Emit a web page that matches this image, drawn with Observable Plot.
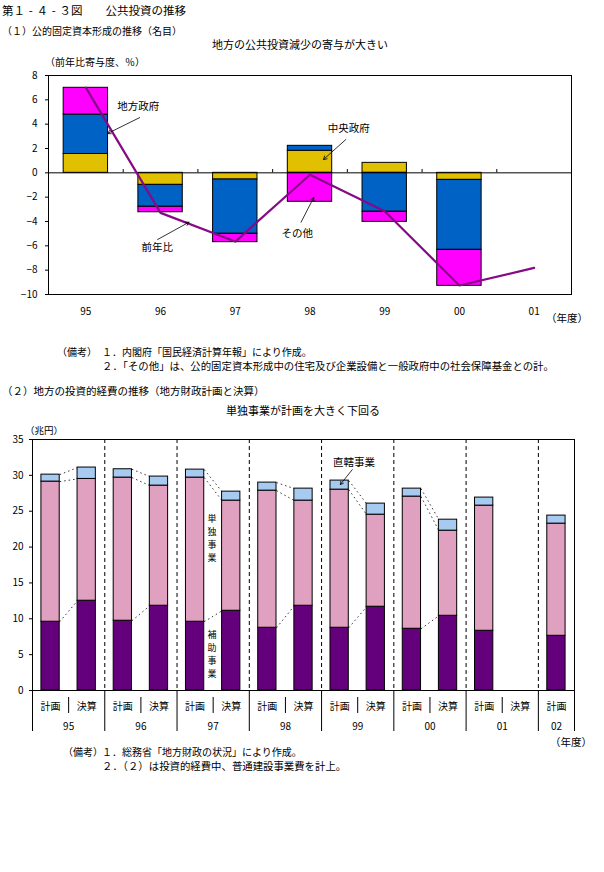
<!DOCTYPE html>
<html><head><meta charset="utf-8">
<script src="https://cdn.jsdelivr.net/npm/d3@7"></script>
<script src="https://cdn.jsdelivr.net/npm/@observablehq/plot@0.6"></script>
<style>
body{margin:0;background:#fff;}
#page{position:relative;width:604px;height:872px;overflow:hidden;background:#fff;font-family:"Noto Sans CJK JP","Noto Sans",sans-serif;color:#000;}
.t{position:absolute;white-space:nowrap;line-height:1;transform:translateY(-50%);}
.d{display:inline-block;width:1em;text-align:center;}
svg{position:absolute;left:0;}
</style></head>
<body><div id="page"></div>
<script>
// ---------- (1) 公的固定資本形成 ----------
const years1 = ["95","96","97","98","99","00","01"];
const central = [1.55, -0.99, -0.55, 1.81, 0.82, -0.58, null];   // 中央政府
const local   = [3.24, -1.80, -4.46, 0.41, -3.20, -5.75, null];  // 地方政府
const other   = [2.20, -0.45, -0.69, -2.38, -0.83, -2.96, null]; // その他
const yoy     = [7.00, -3.29, -5.65, -0.16, -3.15, -9.26, -7.81]; // 前年比
const series1 = ["中央政府","地方政府","その他"];
const colors1 = ["#e0c000","#0062c4","#ff00ff"];
const yTicks1 = [-10,-8,-6,-4,-2,0,2,4,6,8];
const notes1 = [
  {label:"地方政府", x:0.70, y:5.47, ax1:0.72, ay1:4.54, ax2:0.29, ay2:3.23},
  {label:"中央政府", x:3.52, y:3.64, ax1:3.48, ay1:2.74, ax2:3.18, ay2:1.09},
  {label:"その他",   x:2.83, y:-4.96, ax1:2.88, ay1:-4.06, ax2:3.05, ay2:-2.03},
  {label:"前年比",   x:0.955, y:-6.11, ax1:0.96, ay1:-5.48, ax2:1.38, ay2:-4.06}
];

// ---------- (2) 地方の投資的経費 ----------
const slotLabels = ["計画","決算","計画","決算","計画","決算","計画","決算","計画","決算","計画","決算","計画","決算","計画"];
const yearLabels2 = ["95","96","97","98","99","00","01","02"];
const subsidized  = [9.59,12.52,9.73,11.82,9.59,11.12,8.75,11.82,8.75,11.68,8.61,10.42,8.33,null,7.63];   // 補助事業
const independent = [19.54,16.98,19.96,16.75,20.10,15.36,19.12,14.66,19.26,12.84,18.43,11.87,17.45,null,15.64]; // 単独事業
const direct      = [0.97,1.59,1.16,1.26,1.11,1.25,1.12,1.67,1.26,1.54,1.11,1.53,1.12,null,1.12];       // 直轄事業
const series2 = ["補助事業","単独事業","直轄事業"];
const colors2 = ["#64007c","#e0a0c0","#a6caf0"];
const yTicks2 = [0,5,10,15,20,25,30,35];
const notes2 = [
  {label:"単\n独\n事\n業", x:4.47, y:21.3},
  {label:"補\n助\n事\n業", x:4.47, y:5.2}
];
const notes2b = [{label:"直轄事業", x:8.40, y:31.73, ax1:8.35, ay1:30.8, ax2:8.02, ay2:28.72}];

const FONT = '"Noto Sans CJK JP","Noto Sans",sans-serif';
const page = document.getElementById("page");
function txt(s, x, y, size, align, html) {
  const d = document.createElement("div");
  d.className = "t";
  if (html) d.innerHTML = s; else d.textContent = s;
  d.style.fontSize = size + "px"; d.style.top = y + "px";
  if (align === "center") { d.style.left = x + "px"; d.style.transform = "translate(-50%,-50%)"; }
  else if (align === "right") { d.style.right = (604 - x) + "px"; }
  else d.style.left = x + "px";
  page.appendChild(d);
}

// ----- texts -----
txt('第１<span class="d">-</span>４<span class="d">-</span>３図　　公共投資の推移', 2, 11, 11.5, null, true);
txt("（１）公的固定資本形成の推移（名目）", 2, 31, 10);
txt("地方の公共投資減少の寄与が大きい", 300, 44, 11, "center");
txt("（前年比寄与度、％）", 45, 62, 10);
txt("（年度）", 588, 318, 10.5, "right");
txt("（備考）", 57, 352, 10);
txt("１．内閣府「国民経済計算年報」により作成。", 102, 352, 10);
txt("２．「その他」は、公的固定資本形成中の住宅及び企業設備と一般政府中の社会保障基金との計。", 102, 366, 10.4);
txt("（２）地方の投資的経費の推移（地方財政計画と決算）", 2, 391, 10.5);
txt("単独事業が計画を大きく下回る", 303, 410, 11, "center");
txt("（兆円）", 25, 431, 9.5);
txt("（年度）", 592, 742, 10.5, "right");
txt("（備考）", 63, 752, 10);
txt("１．総務省「地方財政の状況」により作成。", 102, 752, 10);
txt("２．（２）は投資的経費中、普通建設事業費を計上。", 102, 766, 10.4);

// ----- chart 1 -----
const hw1 = 0.297;
const rows1 = [];
years1.forEach((y, i) => {
  [central, local, other].forEach((arr, s) => {
    if (arr[i] != null) rows1.push({i, series: series1[s], value: arr[i]});
  });
});
const line1 = yoy.map((v, i) => ({i, value: v}));
const bounds1 = d3.range(0.5, 6, 1);

const chart1 = Plot.plot({
  width: 604, height: 260,
  marginLeft: 48, marginRight: 33, marginTop: 15, marginBottom: 26,
  style: {fontFamily: FONT, fontSize: "10px", background: "transparent", overflow: "visible"},
  x: {domain: [-0.5, 6.5], axis: null},
  y: {domain: [-10, 8], axis: null},
  color: {domain: series1, range: colors1},
  marks: [
    Plot.rectY(rows1, Plot.stackY({x1: d => d.i - hw1, x2: d => d.i + hw1, y: "value", fill: "series", stroke: "#000", strokeWidth: 1})),
    Plot.ruleY([0], {stroke: "#000"}),
    Plot.ruleX(bounds1, {y1: 0, y2: 0.27, stroke: "#000"}),
    Plot.line(line1, {x: "i", y: "value", stroke: "#860a86", strokeWidth: 2.2}),
    Plot.axisY({ticks: yTicks1, tickSize: 3, tickPadding: 8}),
    Plot.axisX({ticks: d3.range(7), tickFormat: i => years1[i], tickSize: 0, tickPadding: 13}),
    Plot.frame({stroke: "#000"}),
    Plot.arrow(notes1, {x1: "ax1", y1: "ay1", x2: "ax2", y2: "ay2", stroke: "#000", strokeWidth: 0.8, headLength: 7}),
    Plot.text(notes1, {x: "x", y: "y", text: "label", fontSize: 10.5})
  ]
});
chart1.style.top = "60px";
page.appendChild(chart1);

// ----- chart 2 -----
const hw2 = 0.253;
const rows2 = [];
slotLabels.forEach((l, i) => {
  [subsidized, independent, direct].forEach((arr, s) => {
    if (arr[i] != null) rows2.push({i, series: series2[s], value: arr[i]});
  });
});
const conn = [];
for (let a = 0; a + 1 < slotLabels.length; a += 2) {
  const b = a + 1;
  if (subsidized[b] == null) continue;
  let ca = 0, cb = 0;
  [subsidized, independent, direct].forEach(arr => {
    ca += arr[a]; cb += arr[b];
    conn.push({x1: a + hw2, y1: ca, x2: b - hw2, y2: cb});
  });
}
const yearBounds = d3.range(1.5, 14, 2);          // dashed separators
const outerBounds = [-0.5, ...yearBounds, 14.5];  // long separators below axis
const planBounds = d3.range(0.5, 13, 2);          // short separators
const yearCenters = yearLabels2.map((y, k) => k < 7 ? 2 * k + 0.5 : 14);

const chart2 = Plot.plot({
  width: 604, height: 320,
  marginLeft: 32, marginRight: 30, marginTop: 19, marginBottom: 50,
  style: {fontFamily: FONT, fontSize: "10px", background: "transparent", overflow: "visible"},
  x: {domain: [-0.5, 14.5], axis: null},
  y: {domain: [0, 35], axis: null},
  color: {domain: series2, range: colors2},
  marks: [
    Plot.ruleX(yearBounds, {stroke: "#000", strokeDasharray: "4,3"}),
    Plot.link(conn, {x1: "x1", y1: "y1", x2: "x2", y2: "y2", stroke: "#000", strokeWidth: 0.8, strokeDasharray: "1.5,3"}),
    Plot.rectY(rows2, Plot.stackY({x1: d => d.i - hw2, x2: d => d.i + hw2, y: "value", fill: "series", stroke: "#000", strokeWidth: 1})),
    Plot.axisY({ticks: yTicks2, tickSize: 3, tickPadding: 6}),
    Plot.axisX({ticks: d3.range(15), tickFormat: i => slotLabels[i], tickSize: 0, tickPadding: 12}),
    Plot.axisX({ticks: planBounds, tickFormat: () => "", tickSize: 16, dy: 7}),
    Plot.axisX({ticks: outerBounds, tickFormat: () => "", tickSize: 41}),
    Plot.axisX({ticks: yearCenters, tickFormat: d => yearLabels2[yearCenters.indexOf(d)], tickSize: 0, tickPadding: 32}),
    Plot.frame({stroke: "#000"}),
    Plot.text(notes2, {x: "x", y: "y", text: "label", fontSize: 9, lineHeight: 1.45}),
    Plot.arrow(notes2b, {x1: "ax1", y1: "ay1", x2: "ax2", y2: "ay2", stroke: "#000", strokeWidth: 0.8, headLength: 6}),
    Plot.text(notes2b, {x: "x", y: "y", text: "label", fontSize: 10.5})
  ]
});
chart2.style.top = "420px";
page.appendChild(chart2);
</script>
</body></html>
